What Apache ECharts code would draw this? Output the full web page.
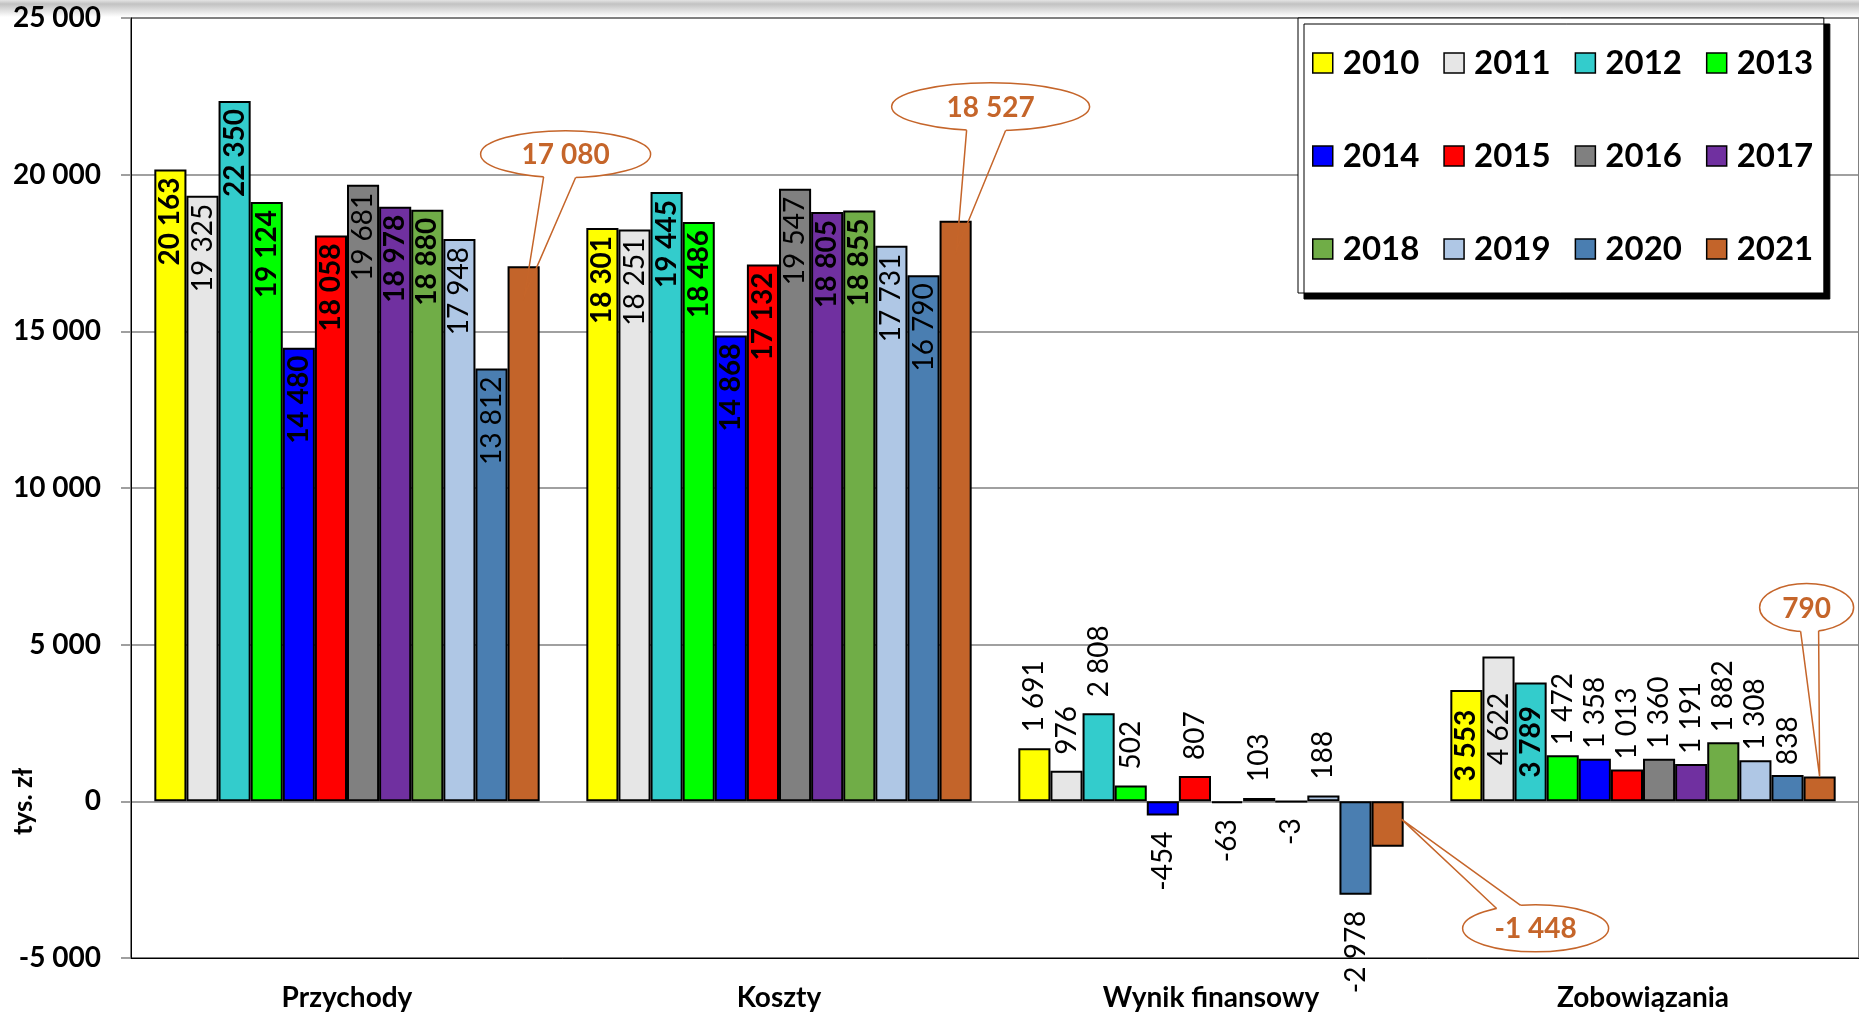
<!DOCTYPE html>
<html><head><meta charset="utf-8">
<script src="https://cdn.jsdelivr.net/npm/echarts@6/dist/echarts.min.js"></script>
<style>html,body{margin:0;padding:0;background:#fff;}
#c{width:1859px;height:1015px;background:linear-gradient(to bottom,#e4e4e4 0px,#c2c2c2 4px,#ffffff 17px,#ffffff 100%);}</style>
</head><body><div id="c"></div>
<script>
const categories = ['Przychody', 'Koszty', 'Wynik finansowy', 'Zobowiązania'];
const years = ['2010','2011','2012','2013','2014','2015','2016','2017','2018','2019','2020','2021'];
const przychody = [20163, 19325, 22350, 19124, 14480, 18058, 19681, 18978, 18880, 17948, 13812, 17080];
const koszty = [18301, 18251, 19445, 18486, 14868, 17132, 19547, 18805, 18855, 17731, 16790, 18527];
const wynik = [1691, 976, 2808, 502, -454, 807, -63, 103, -3, 188, -2978, -1448];
const zobowiazania = [3553, 4622, 3789, 1472, 1358, 1013, 1360, 1191, 1882, 1308, 838, 790];
const yMin = -5000, yMax = 25000, yInterval = 5000;
const colors = ['#FFFF00','#E6E6E6','#33CCCC','#00FF00','#0000FF','#FF0000','#808080','#7030A0','#70AD47','#AFC7E5','#4A7EB1','#C3642A'];
const ORANGE = '#C5652A';
const FONT = 'Lato, "Open Sans", sans-serif';

function fmt(v) {
  const s = Math.abs(Math.round(v)).toString().replace(/\B(?=(\d{3})+(?!\d))/g, ' ');
  return (v < 0 ? '-' : '') + s;
}

const boldYears = new Set([0, 2, 3, 4, 5, 7, 8]);
function labelFor(ci, yi, v) {
  if (yi === years.length - 1) return { show: false };
  const base = { show: true, rotate: 90, fontSize: 28, fontFamily: FONT, color: '#000' };
  const inside = ci <= 1 || (ci === 3 && v > 2500);
  if (inside) {
    return Object.assign(base, {
      position: ci === 3 ? 'inside' : 'insideTop', distance: 8,
      align: ci === 3 ? 'center' : 'right', verticalAlign: 'middle',
      fontWeight: boldYears.has(yi) ? 'bold' : 'normal'
    });
  }
  if (v >= 0) {
    return Object.assign(base, { position: 'top', distance: ci === 3 ? 10 : 16, align: 'left', verticalAlign: 'middle', fontWeight: 'normal' });
  }
  return Object.assign(base, { position: 'bottom', distance: 16, align: 'right', verticalAlign: 'middle', fontWeight: 'normal' });
}

const table = [przychody, koszty, wynik, zobowiazania];
const series = years.map((y, yi) => ({
  name: y, type: 'bar', barGap: '0%', barCategoryGap: '10.8%',
  itemStyle: { color: colors[yi], borderColor: '#000', borderWidth: 2 },
  label: { formatter: p => fmt(p.value) },
  data: table.map((arr, ci) => ({ value: arr[yi], label: labelFor(ci, yi, arr[yi]) }))
}));

const chart = echarts.init(document.getElementById('c'));
chart.setOption({
  animation: false,
  backgroundColor: 'transparent',
  textStyle: { fontFamily: FONT },
  grid: { left: 131, top: 18, width: 1731, bottom: 57, show: true, borderColor: '#000', borderWidth: 1, backgroundColor: 'transparent' },
  legend: {
    data: years, left: 1298, top: 18, width: 505, orient: 'horizontal',
    padding: [10.5, 10.6, 9.5, 14], itemGap: 24, itemWidth: 20, itemHeight: 20,
    backgroundColor: '#fff', borderColor: '#000', borderWidth: 1,
    shadowColor: '#000', shadowBlur: 0, shadowOffsetX: 6, shadowOffsetY: 6,
    icon: 'rect', selectedMode: false,
    itemStyle: { borderColor: '#000', borderWidth: 1.5 },
    textStyle: { fontFamily: FONT, fontSize: 33, fontWeight: 'bold', color: '#000', lineHeight: 69, padding: [0, 0, 0, 5] }
  },
  xAxis: {
    type: 'category', data: categories,
    axisLine: { onZero: false, lineStyle: { color: '#000', width: 1 } },
    axisTick: { show: false },
    axisLabel: { fontSize: 28, fontWeight: 'bold', color: '#000', margin: 26, fontFamily: FONT }
  },
  yAxis: {
    type: 'value', min: yMin, max: yMax, interval: yInterval,
    axisLine: { show: true, lineStyle: { color: '#000', width: 1 } },
    axisTick: { show: true, length: 10, lineStyle: { color: '#808080', width: 1.5 } },
    splitLine: { lineStyle: { color: '#808080', width: 1.5 } },
    axisLabel: { formatter: v => fmt(v), fontSize: 28, fontWeight: 700, color: '#000', margin: 30, fontFamily: FONT }
  },
  series: series
});

// callouts for the 2021 series, anchored to the bars laid out by ECharts
const calloutCfg = [
  { dx: 42, dy: -112, rx: 85, ry: 23.5, b: [-22, 10], tip: [1, 29] },
  { dx: 35, dy: -114, rx: 99, ry: 24, b: [-24, 15], tip: [1, 29] },
  { dx: 148, dy: 127, rx: 73, ry: 23.5, b: [-39, -15], tip: [14, 18] },
  { dx: -13, dy: -169, rx: 47, ry: 24, b: [-6, 12], tip: [0, 0] }
];
const lastIdx = years.length - 1;
const sData = chart.getModel().getSeriesByIndex(lastIdx).getData();
const graphics = [
  { type: 'text', x: 24, y: chart.convertToPixel({ yAxisIndex: 0 }, 0), rotation: Math.PI / 2, z: 50,
    style: { text: 'tys. zł', fontSize: 26, fontWeight: 'bold', fontFamily: FONT, fill: '#000', align: 'center', verticalAlign: 'middle' } }
];
calloutCfg.forEach((c, ci) => {
  const lay = sData.getItemLayout(ci);
  const v = table[ci][lastIdx];
  const topY = Math.min(lay.y, lay.y + lay.height);
  const cx = lay.x + lay.width / 2;
  const tip = [cx + c.tip[0], topY + c.tip[1]];
  const E = [cx + c.dx, topY + c.dy];
  const side = c.dy > 0 ? -1 : 1;
  const bases = c.b.map(bx => [E[0] + bx, E[1] + side * c.ry * Math.sqrt(1 - (bx / c.rx) * (bx / c.rx))]);
  const dir = bases.map(p => { const vx = tip[0] - p[0], vy = tip[1] - p[1]; const L = Math.hypot(vx, vy); return [vx / L, vy / L]; });
  const patch = [
    [bases[0][0] - dir[0][0] * 4, bases[0][1] - dir[0][1] * 4],
    [bases[1][0] - dir[1][0] * 4, bases[1][1] - dir[1][1] * 4],
    [bases[1][0] + dir[1][0] * 5, bases[1][1] + dir[1][1] * 5],
    [bases[0][0] + dir[0][0] * 5, bases[0][1] + dir[0][1] * 5]
  ];
  graphics.push({ type: 'ellipse', z: 100, shape: { cx: E[0], cy: E[1], rx: c.rx, ry: c.ry }, style: { fill: '#fff', stroke: ORANGE, lineWidth: 1.5 } });
  graphics.push({ type: 'polygon', z: 101, shape: { points: patch }, style: { fill: '#fff' } });
  graphics.push({ type: 'polyline', z: 102, shape: { points: [bases[0], tip, bases[1]] }, style: { stroke: ORANGE, lineWidth: 1.5, fill: null } });
  graphics.push({ type: 'text', z: 103, x: E[0], y: E[1] + 1, style: { text: fmt(v), fontSize: 28, fontWeight: 'bold', fontFamily: FONT, fill: ORANGE, align: 'center', verticalAlign: 'middle' } });
});
chart.setOption({ graphic: graphics });
</script>
</body></html>
